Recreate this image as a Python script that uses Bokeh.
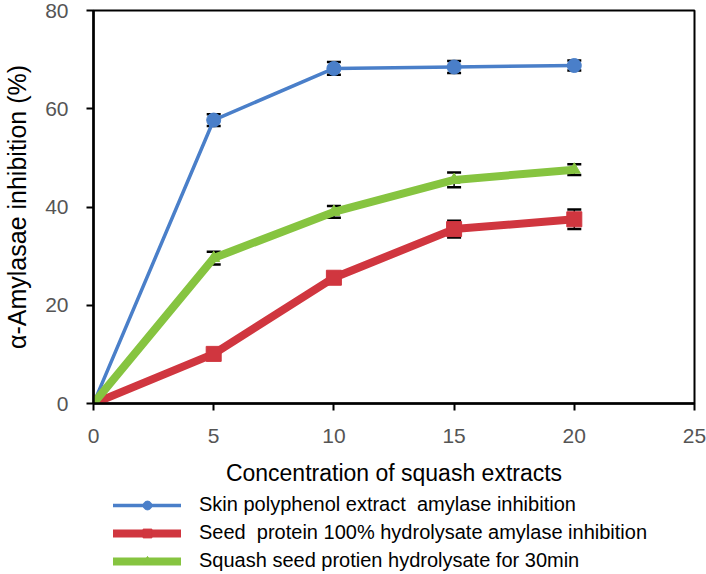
from bokeh.plotting import figure
from bokeh.models import ColumnDataSource, Whisker, TeeHead, Legend, LegendItem, Range1d, FixedTicker
from bokeh.layouts import column
from bokeh.embed import file_html
from bokeh.resources import INLINE

# Data
conc = [0, 5, 10, 15, 20]
skin_poly = [0, 57.7, 68.2, 68.5, 68.8]
skin_err = [0, 1.2, 1.3, 1.2, 1.0]
seed_100 = [0, 10.1, 25.6, 35.5, 37.5]
seed_100_err = [0, 0.7, 0.8, 1.7, 2.0]
seed_30 = [0, 29.6, 39.0, 45.5, 47.6]
seed_30_err = [0, 1.3, 1.2, 1.5, 1.1]

names = ["Skin polyphenol extract  amylase inhibition",
         "Seed  protein 100% hydrolysate amylase inhibition",
         "Squash seed protien hydrolysate for 30min"]
x_ticks = [0, 5, 10, 15, 20, 25]
y_ticks = [0, 20, 40, 60, 80]

BLUE = "#4A7FC9"
RED = "#D0363F"
GREEN = "#86C440"
FONT = "Liberation Sans"

p = figure(width=706, height=490, output_backend="svg", toolbar_location=None,
           x_range=Range1d(0, 25), y_range=Range1d(0, 80),
           min_border_left=93, min_border_right=12, min_border_top=10, min_border_bottom=87)
p.background_fill_color = "white"
p.border_fill_color = "white"
p.outline_line_color = "black"
p.outline_line_width = 2
p.xgrid.visible = False
p.ygrid.visible = False

for ax, ticks in ((p.xaxis[0], x_ticks), (p.yaxis[0], y_ticks)):
    ax.ticker = FixedTicker(ticks=ticks)
    ax.minor_tick_line_color = None
    ax.axis_line_color = "black"
    ax.axis_line_width = 2.5
    ax.major_tick_line_color = "black"
    ax.major_tick_line_width = 2
    ax.major_tick_in = 0
    ax.major_tick_out = 7
    ax.major_label_text_font = FONT
    ax.major_label_text_font_size = "21px"
    ax.major_label_text_color = "#555555"
    ax.axis_label_text_font = FONT
    ax.axis_label_text_font_style = "normal"
    ax.axis_label_text_color = "black"

p.yaxis.major_label_standoff = 18
p.xaxis.major_label_standoff = 18
p.yaxis.axis_label = "\u03b1-Amylasae inhibition (%)"
p.yaxis.axis_label_text_font_size = "25px"
p.yaxis.axis_label_standoff = 11
p.xaxis.axis_label = "Concentration of squash extracts"
p.xaxis.axis_label_text_font_size = "23px"
p.xaxis.axis_label_standoff = 14

series = [
    (skin_poly, skin_err, BLUE, 3.5, "circle", 14),
    (seed_100, seed_100_err, RED, 8, "square", 15),
    (seed_30, seed_30_err, GREEN, 8, "triangle", 12),
]

# legend panel (separate figure below the chart; its data lie outside its ranges)
lg = figure(width=706, height=84, output_backend="svg", toolbar_location=None,
            x_axis_location=None, y_axis_location=None,
            x_range=Range1d(1000, 1001), y_range=Range1d(1000, 1001),
            min_border=0, outline_line_color=None)
lg.xgrid.visible = False
lg.ygrid.visible = False

items = []
for (vals, errs, color, lw, marker, size), name in zip(series, names):
    src = ColumnDataSource(dict(x=conc, y=vals,
                                lo=[v - e for v, e in zip(vals, errs)],
                                hi=[v + e for v, e in zip(vals, errs)]))
    p.line("x", "y", source=src, line_color=color, line_width=lw)
    w = Whisker(source=src, base="x", lower="lo", upper="hi", level="underlay",
                line_color="black", line_width=1.5,
                upper_head=TeeHead(size=14, line_color="black", line_width=2.5),
                lower_head=TeeHead(size=14, line_color="black", line_width=2.5))
    p.add_layout(w)
    p.scatter("x", "y", source=src, marker=marker, size=size,
              fill_color=color, line_color=color)
    ln = lg.line("x", "y", source=src, line_color=color, line_width=lw, line_cap="round")
    mk = lg.scatter("x", "y", source=src, marker=marker, size=size,
                    fill_color=color, line_color=color)
    items.append(LegendItem(label=name, renderers=[ln, mk]))

legend = Legend(items=items, location=(20, 2), orientation="vertical")
legend.label_text_font = FONT
legend.label_text_font_size = "20px"
legend.label_text_color = "black"
legend.glyph_width = 68
legend.glyph_height = 22
legend.label_height = 22
legend.spacing = 5
legend.label_standoff = 18
legend.padding = 0
legend.margin = 0
legend.border_line_color = None
legend.background_fill_alpha = 0
lg.add_layout(legend)

open("out.html", "w").write(file_html(column(p, lg, spacing=0), INLINE))
